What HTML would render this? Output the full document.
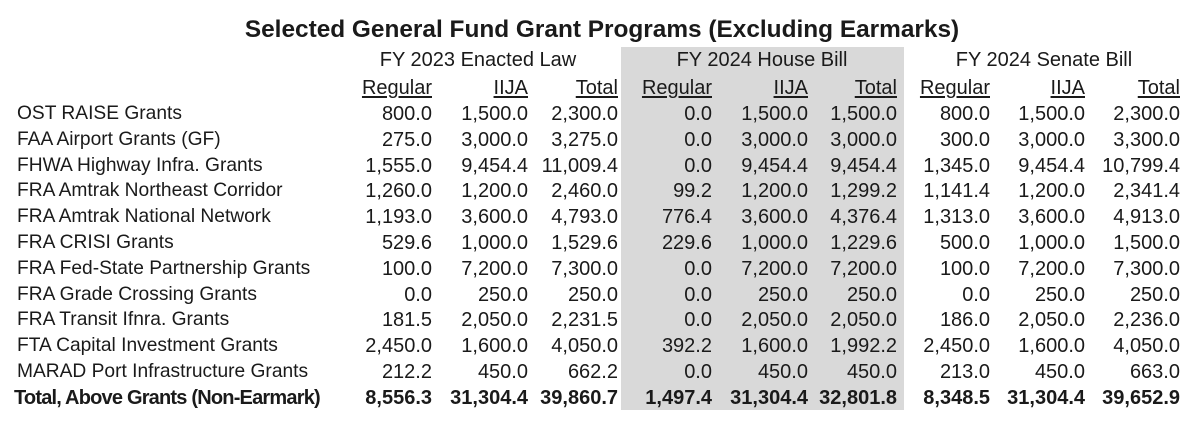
<!DOCTYPE html>
<html><head><meta charset="utf-8">
<style>
body{margin:0;width:1200px;height:437px;background:#fff;overflow:hidden;font-family:"Liberation Sans",sans-serif;color:#1a1a1a;position:relative}
.t{position:absolute;white-space:nowrap;font-size:20px;line-height:24px}
.r{text-align:right}
.c{text-align:center}
.u{text-decoration:underline;text-underline-offset:2px}
.b{font-weight:bold}
.l{font-size:19.2px}
.l.b{font-size:20px;letter-spacing:-0.8px}
#shade{position:absolute;left:621px;top:47px;width:283px;height:363px;background:#d9d9d9}
#title{position:absolute;left:0;width:1200px;top:14px;text-align:center;font-size:24.4px;font-weight:bold;line-height:32px;padding-left:4px;box-sizing:border-box}
</style></head><body>
<div id="shade"></div>
<div id="title">Selected General Fund Grant Programs (Excluding Earmarks)</div>
<script>
const groups=["FY 2023 Enacted Law","FY 2024 House Bill","FY 2024 Senate Bill"];
const subheads=["Regular","IIJA","Total"];
const labels=["OST RAISE Grants","FAA Airport Grants (GF)","FHWA Highway Infra. Grants","FRA Amtrak Northeast Corridor","FRA Amtrak National Network","FRA CRISI Grants","FRA Fed-State Partnership Grants","FRA Grade Crossing Grants","FRA Transit Ifnra. Grants","FTA Capital Investment Grants","MARAD Port Infrastructure Grants","Total, Above Grants (Non-Earmark)"];
const values=[
["800.0","1,500.0","2,300.0","0.0","1,500.0","1,500.0","800.0","1,500.0","2,300.0"],
["275.0","3,000.0","3,275.0","0.0","3,000.0","3,000.0","300.0","3,000.0","3,300.0"],
["1,555.0","9,454.4","11,009.4","0.0","9,454.4","9,454.4","1,345.0","9,454.4","10,799.4"],
["1,260.0","1,200.0","2,460.0","99.2","1,200.0","1,299.2","1,141.4","1,200.0","2,341.4"],
["1,193.0","3,600.0","4,793.0","776.4","3,600.0","4,376.4","1,313.0","3,600.0","4,913.0"],
["529.6","1,000.0","1,529.6","229.6","1,000.0","1,229.6","500.0","1,000.0","1,500.0"],
["100.0","7,200.0","7,300.0","0.0","7,200.0","7,200.0","100.0","7,200.0","7,300.0"],
["0.0","250.0","250.0","0.0","250.0","250.0","0.0","250.0","250.0"],
["181.5","2,050.0","2,231.5","0.0","2,050.0","2,050.0","186.0","2,050.0","2,236.0"],
["2,450.0","1,600.0","4,050.0","392.2","1,600.0","1,992.2","2,450.0","1,600.0","4,050.0"],
["212.2","450.0","662.2","0.0","450.0","450.0","213.0","450.0","663.0"],
["8,556.3","31,304.4","39,860.7","1,497.4","31,304.4","32,801.8","8,348.5","31,304.4","39,652.9"]];
const colRight=[432,528,618,712,808,897,990,1085,1180];
const groupCenter=[478,762,1044];
function mk(txt,cls,x,y,w){const d=document.createElement('div');d.className='t '+cls;d.textContent=txt;d.style.left=x+'px';d.style.top=y+'px';if(w)d.style.width=w+'px';document.body.appendChild(d);return d;}
groups.forEach((g,i)=>{const d=mk(g,'c',groupCenter[i]-150,48,300);

});
colRight.forEach((x,i)=>{const d=mk(subheads[i%3],'r u',x-150,76,150);

});
labels.forEach((l,r)=>{const y=102+r*25.8;const bold=r===labels.length-1?' b':'';
const d=mk(l,'l'+bold,bold?14:17,y);


values[r].forEach((v,c)=>{const e=mk(v,'r'+bold,colRight[c]-150,y,150);

});});
</script>
</body></html>
